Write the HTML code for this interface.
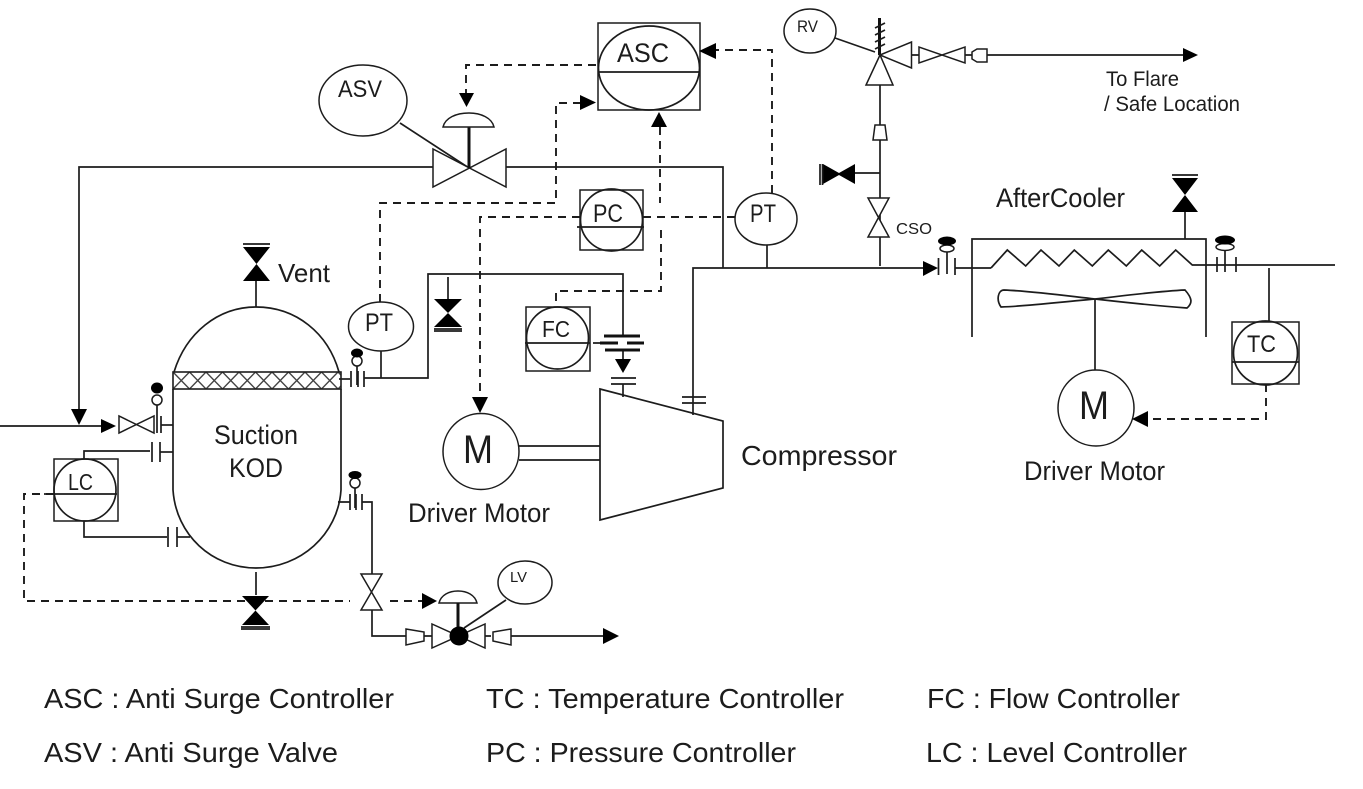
<!DOCTYPE html>
<html><head><meta charset="utf-8"><style>
html,body{margin:0;padding:0;background:#fff;width:1363px;height:789px;overflow:hidden}
svg{display:block;filter:blur(.3px)}
text{font-family:"Liberation Sans",sans-serif;fill:#1c1c1c}
.l{fill:none;stroke:#1c1c1c;stroke-width:1.7}
.w{fill:#fff;stroke:#1c1c1c;stroke-width:1.5}
.t{fill:#fff;stroke:#1c1c1c;stroke-width:1.5;stroke-linejoin:miter}
.b{fill:#000;stroke:none}
.d{fill:none;stroke:#1c1c1c;stroke-width:1.9;stroke-dasharray:8 6}
.k{fill:none;stroke:#111;stroke-width:3}
</style></head><body>
<svg width="1363" height="789" viewBox="0 0 1363 789" xmlns="http://www.w3.org/2000/svg">
<defs>
<pattern id="m" x="173" y="372" width="16.5" height="17" patternUnits="userSpaceOnUse">
<path d="M0 0L16.5 17M16.5 0L0 17" stroke="#444" stroke-width="1.4" fill="none"/>
</pattern>
</defs>

<!-- dashed signal lines -->
<path class="d" d="M596 65H466V93"/>
<path class="d" d="M380 302V203H556V103H580"/>
<path class="d" d="M772 193V50H716"/>
<path class="d" d="M660 127V203"/>
<path class="d" d="M661 230V291H556V306"/>
<path class="d" d="M580 217H480V397"/>
<path class="d" d="M643 217H735"/>
<path class="d" d="M54 494H24V601H350"/>
<path class="d" d="M390 601H422"/>
<path class="d" d="M1266 384V419H1148"/>

<!-- process lines -->
<path class="l" d="M0 426H102"/>
<path class="l" d="M79 410V167H433"/>
<path class="l" d="M506 167H723V268"/>
<path class="l" d="M693 415V268H923"/>
<path class="l" d="M767 245V268"/>
<path class="l" d="M880 85V266"/>
<path class="l" d="M855 173H880"/>
<path class="l" d="M987 55H1184"/>
<path class="l" d="M911 55H919M965 55H972"/>
<path class="l" d="M364 378H428V274H623V335"/>
<path class="l" d="M381 351V378"/>
<path class="l" d="M448 277V299"/>
<path class="l" d="M623 350V360"/>
<path class="l" d="M623 384V397"/>
<path class="l" d="M256 281V307"/>
<path class="l" d="M256 572V595"/>
<path class="l" d="M161 425H173"/>
<path class="l" d="M84 459V451H150"/>
<path class="l" d="M160 452H173"/>
<path class="l" d="M84 521V537H167"/>
<path class="l" d="M177 537H190"/>
<path class="l" d="M339 379H350"/>
<path class="l" d="M338 502H350M362 502H372V575"/>
<path class="l" d="M372 610V636H406"/>
<path class="l" d="M424 636H432M485 636H491M511 636H605"/>

<!-- vessel -->
<path class="l" d="M174 372C186 333 218 307 256 307C296 307 328 333 339 372"/>
<path class="l" d="M173 389V490C176 535 212 568 256 568C300 568 338 535 341 490V389"/>
<rect x="173" y="372" width="168" height="17" fill="url(#m)" stroke="#1c1c1c" stroke-width="1.6"/>

<!-- nozzle flanges -->
<path class="l" d="M152 442V462M160 442V462"/>
<path class="l" d="M168 527V547M177 527V547"/>
<path class="l" d="M157 404V433M161 416V433"/>
<circle class="w" cx="157" cy="400" r="5"/><ellipse class="b" cx="157" cy="388" rx="6" ry="5.5"/>
<path class="l" d="M351 371V387M358 371V387M364 371V387"/>
<path class="l" d="M357 365V385"/>
<circle class="w" cx="357" cy="361" r="5"/><ellipse class="b" cx="357" cy="353" rx="6" ry="4.5"/>
<path class="l" d="M350 494V510M356 494V510M362 494V510"/>
<path class="l" d="M355 487V508"/>
<circle class="w" cx="355" cy="483" r="5"/><ellipse class="b" cx="355" cy="475" rx="6.5" ry="4"/>

<!-- inlet valve -->
<path class="t" d="M119 416V433L154 416V433Z"/>
<path class="b" d="M101 419L116 426L101 433Z"/>
<path class="b" d="M71 409H87L79 425Z"/>

<!-- vent valve -->
<path class="l" d="M243 244H270"/>
<path class="b" d="M243 247H270L243 281H270Z"/>
<path class="b" d="M242 596H269L242 625H269Z"/>
<path class="l" d="M241 627H270M241 629H270"/>

<!-- PT valve -->
<path class="b" d="M434 299H462L434 327H462Z"/>
<path class="l" d="M434 329H462M434 331H462" stroke-width="1.2"/>

<!-- LC -->
<rect class="w" x="54" y="459" width="64" height="62"/>
<circle class="l" cx="85" cy="490" r="31"/>
<path class="l" d="M44 494H117"/>
<text x="68" y="490" font-size="23" textLength="25" lengthAdjust="spacingAndGlyphs">LC</text>

<!-- PT left -->
<ellipse class="w" cx="381" cy="326.500" rx="32.500" ry="24.500"/>
<text x="365" y="331" font-size="25" textLength="28" lengthAdjust="spacingAndGlyphs">PT</text>

<!-- ASV -->
<ellipse class="w" cx="363" cy="100.500" rx="44" ry="35.500"/>
<text x="338" y="97" font-size="24.500" textLength="44" lengthAdjust="spacingAndGlyphs">ASV</text>
<path class="l" d="M400 123L469 168"/>
<path class="t" d="M433 149V187L506 149V187Z"/>
<path class="k" d="M469 127V168"/>
<path class="w" d="M443 127C445 118 456 113 469 113C481 113 492 118 494 127Z"/>
<path class="b" d="M459 93H474L466.500 107Z"/>

<!-- ASC -->
<rect class="w" x="598" y="23" width="102" height="87"/>
<ellipse class="l" cx="649" cy="68" rx="50.500" ry="42"/>
<path class="l" d="M598 72H700"/>
<text x="617" y="62" font-size="27" textLength="52" lengthAdjust="spacingAndGlyphs">ASC</text>
<path class="b" d="M580 95L596 102.500L580 110Z"/>
<path class="b" d="M716 43V59L699 51Z"/>
<path class="b" d="M659 112L667 127H651Z"/>

<!-- PC -->
<rect class="w" x="580" y="190" width="63" height="60"/>
<circle class="l" cx="611.500" cy="220" r="31"/>
<path class="l" d="M577 227H644"/>
<text x="593" y="222" font-size="25" textLength="30" lengthAdjust="spacingAndGlyphs">PC</text>

<!-- PT right -->
<ellipse class="w" cx="766" cy="219" rx="31" ry="26"/>
<text x="750" y="222" font-size="25" textLength="26" lengthAdjust="spacingAndGlyphs">PT</text>

<!-- FC -->
<rect class="w" x="526" y="307" width="64" height="64"/>
<circle class="l" cx="557.500" cy="338" r="31"/>
<path class="l" d="M525 343H590M593 343H603"/>
<text x="542" y="337" font-size="23.500" textLength="28" lengthAdjust="spacingAndGlyphs">FC</text>
<path class="k" d="M604 336H640M600 343H618M627 343H644M605 350H640"/>
<path class="b" d="M615 359H631L623 373Z"/>
<path class="l" d="M611 378H636M611 384H636" stroke-width="1.3"/>

<!-- compressor -->
<path class="l" d="M600 389L723 421V488L600 520Z"/>
<path class="l" d="M682 397H706M682 403H706"/>
<path class="l" d="M519 446H600M519 460H600"/>
<circle class="w" cx="481" cy="451.500" r="38"/>
<text x="463" y="463" font-size="40" textLength="30" lengthAdjust="spacingAndGlyphs">M</text>
<path class="b" d="M472 397H488L480 413Z"/>
<text x="741" y="465" font-size="27.500" textLength="156" lengthAdjust="spacingAndGlyphs">Compressor</text>
<text x="408" y="522" font-size="27" textLength="142" lengthAdjust="spacingAndGlyphs">Driver Motor</text>

<!-- Vessel labels -->
<text x="278" y="282" font-size="26" textLength="52" lengthAdjust="spacingAndGlyphs">Vent</text>
<text x="214" y="444" font-size="27" textLength="84" lengthAdjust="spacingAndGlyphs">Suction</text>
<text x="229" y="477" font-size="27" textLength="54" lengthAdjust="spacingAndGlyphs">KOD</text>

<!-- LV control valve -->
<path class="t" d="M361 574H382L361 610H382Z"/>
<path class="b" d="M422 593L437 601L422 609Z"/>
<path class="w" d="M439 603C441 595 449 591 458 591C467 591 475 595 477 603Z"/>
<path class="k" d="M458 603V635"/>
<path class="l" d="M506 600L464 628"/>
<ellipse class="w" cx="525" cy="582.500" rx="27" ry="21.500"/>
<text x="510" y="582" font-size="15" textLength="17" lengthAdjust="spacingAndGlyphs">LV</text>
<path class="t" d="M406 629L424 632V641L406 645Z"/>
<path class="t" d="M511 629L493 632V641L511 645Z"/>
<path class="t" d="M432 624V648L485 624V648Z"/>
<circle class="b" cx="459" cy="636" r="9.500"/>
<path class="b" d="M603 628L619 636L603 644Z"/>

<!-- RV -->
<ellipse class="w" cx="810" cy="31" rx="26" ry="22"/>
<text x="797" y="32" font-size="17" textLength="21" lengthAdjust="spacingAndGlyphs">RV</text>
<path class="l" d="M835 38L875 52"/>
<path class="k" d="M879.500 18V55" stroke-width="2.400"/>
<path class="l" d="M875 28L885 23M875 35L885 30M875 42L885 37M875 49L885 44" stroke-width="2"/>
<path class="t" d="M880 55L866 85H893Z"/>
<path class="t" d="M880 55L911.500 42V68Z"/>
<path class="t" d="M919 47V63L965 47V63Z"/>
<path class="t" d="M972 52L977 49H987V62H977L972 59Z"/>
<path class="b" d="M1183 48L1198 55L1183 62Z"/>
<text x="1106" y="86" font-size="21" textLength="73" lengthAdjust="spacingAndGlyphs">To Flare</text>
<text x="1104" y="111" font-size="21" textLength="136" lengthAdjust="spacingAndGlyphs">/ Safe Location</text>
<path class="t" d="M875 125H885L887 140H873Z"/>
<path class="b" d="M823 164L839 173L855 164V184L839 175L823 184Z"/>
<path class="l" d="M820 164V185M822.500 164V185" stroke-width="1.200"/>
<path class="t" d="M868 198H889L868 237H889Z"/>
<text x="896" y="234" font-size="16" textLength="36" lengthAdjust="spacingAndGlyphs">CSO</text>

<!-- Aftercooler -->
<path class="b" d="M923 261L938 268L923 276Z"/>
<path class="l" d="M938.500 258V275M947 250V274M955 258V275M955 268H991"/>
<ellipse class="w" cx="947" cy="248.500" rx="7" ry="3.500"/>
<ellipse class="b" cx="947" cy="241" rx="9" ry="4.500"/>
<path class="l" d="M972 337V239H1206V337"/>
<path class="l" d="M1185 212V239"/>
<path class="l" d="M1172 175H1198"/>
<path class="b" d="M1172 178H1198L1172 212H1198Z"/>
<path class="l" d="M991 268L1007.300 250L1025.700 266L1041 250L1059 266L1074.300 250L1092.300 266L1108.300 250L1126.300 266L1141.700 250L1159.700 266L1175.700 250L1192.300 265H1335"/>
<path class="l" d="M1217 257V272M1225 250V272M1236 257V272"/>
<ellipse class="w" cx="1225" cy="247" rx="9" ry="3.500"/>
<ellipse class="b" cx="1225" cy="240" rx="10" ry="4.500"/>
<path class="l" d="M1095 299C1060 295 1030 291 1004 290C998 290 996 300 1001 307C1030 306 1060 302 1095 299C1130 295 1160 291 1185 290C1192 298 1193 303 1187 308C1160 306 1130 303 1095 299Z" stroke-width="1.300"/>
<path class="l" d="M1095 299V370"/>
<circle class="w" cx="1096" cy="408" r="38"/>
<text x="1079" y="419" font-size="40" textLength="30" lengthAdjust="spacingAndGlyphs">M</text>
<path class="b" d="M1148 411V427L1132 419Z"/>
<text x="1024" y="480" font-size="27" textLength="141" lengthAdjust="spacingAndGlyphs">Driver Motor</text>
<text x="996" y="207" font-size="27" textLength="129" lengthAdjust="spacingAndGlyphs">AfterCooler</text>

<!-- TC -->
<path class="l" d="M1269 268V322"/>
<rect class="w" x="1232" y="322" width="67" height="62"/>
<circle class="l" cx="1265.500" cy="353" r="32"/>
<path class="l" d="M1232 362H1299"/>
<text x="1247" y="352" font-size="24.500" textLength="29" lengthAdjust="spacingAndGlyphs">TC</text>

<!-- legend -->
<text x="44" y="708" font-size="28" textLength="350" lengthAdjust="spacingAndGlyphs">ASC : Anti Surge Controller</text>
<text x="486" y="708" font-size="28" textLength="358" lengthAdjust="spacingAndGlyphs">TC : Temperature Controller</text>
<text x="927" y="708" font-size="28" textLength="253" lengthAdjust="spacingAndGlyphs">FC : Flow Controller</text>
<text x="44" y="762" font-size="28" textLength="294" lengthAdjust="spacingAndGlyphs">ASV : Anti Surge Valve</text>
<text x="486" y="762" font-size="28" textLength="310" lengthAdjust="spacingAndGlyphs">PC : Pressure Controller</text>
<text x="926" y="762" font-size="28" textLength="261" lengthAdjust="spacingAndGlyphs">LC : Level Controller</text>
</svg>
</body></html>
